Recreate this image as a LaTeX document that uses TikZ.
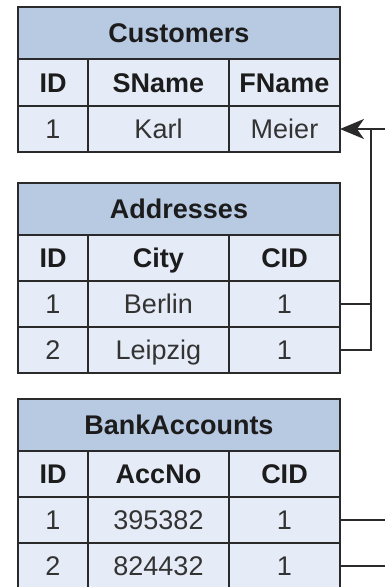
\documentclass[tikz,border=0pt]{standalone}
\usepackage{fontspec}
\setmainfont{Liberation Sans}
\usetikzlibrary{arrows.meta}
\definecolor{hdr}{HTML}{B8C9E2}
\definecolor{cellbg}{HTML}{E6ECF7}
\definecolor{edge}{HTML}{2A2A2A}
\definecolor{txt}{HTML}{333333}
\definecolor{btxt}{HTML}{1C1C1C}
\tikzset{
  tbl/.style={draw=edge, line width=1.6pt, inner sep=0pt, outer sep=0pt, text=txt,
    text height=19.3pt, text depth=0pt, font=\fontsize{27}{31}\selectfont},
  title/.style={tbl, fill=hdr, text=btxt, minimum width=322pt, minimum height=52pt, font=\fontsize{27}{31}\selectfont\bfseries},
  colhead/.style={tbl, fill=cellbg, text=btxt, font=\fontsize{27}{31}\selectfont\bfseries},
  cellx/.style={tbl, fill=cellbg},
  cA/.style={minimum width=70pt},
  cB/.style={minimum width=141pt},
  cC/.style={minimum width=111pt},
  rh/.style={minimum height=47pt},
  rr/.style={minimum height=46pt},
  link/.style={draw=edge, line width=1.6pt},
}
\begin{document}
\begin{tikzpicture}[x=1pt,y=-1pt]
\useasboundingbox (0,0) rectangle (385,587);
% Customers
\node[title] (ct) at (179,33) {Customers};
\node[colhead,cA,rh] (cid) at (53,82.5) {ID};
\node[colhead,cB,rh] (csn) at (158.5,82.5) {SName};
\node[colhead,cC,rh] (cfn) at (284.5,82.5) {FName};
\node[cellx,cA,rr] (c1id) at (53,129) {1};
\node[cellx,cB,rr] (c1sn) at (158.5,129) {Karl};
\node[cellx,cC,rr] (c1fn) at (284.5,129) {Meier};
% Addresses
\node[title] (at) at (179,209) {Addresses};
\node[colhead,cA,rr] (aid) at (53,258) {ID};
\node[colhead,cB,rr] (acity) at (158.5,258) {City};
\node[colhead,cC,rr] (acid) at (284.5,258) {CID};
\node[cellx,cA,rr] (a1id) at (53,304) {1};
\node[cellx,cB,rr] (a1city) at (158.5,304) {Berlin};
\node[cellx,cC,rr] (a1cid) at (284.5,304) {1};
\node[cellx,cA,rr] (a2id) at (53,350) {2};
\node[cellx,cB,rr] (a2city) at (158.5,350) {Leipzig};
\node[cellx,cC,rr] (a2cid) at (284.5,350) {1};
% BankAccounts
\node[title] (bt) at (179,425) {BankAccounts};
\node[colhead,cA,rr] (bid) at (53,474) {ID};
\node[colhead,cB,rr] (bacc) at (158.5,474) {AccNo};
\node[colhead,cC,rr] (bcid) at (284.5,474) {CID};
\node[cellx,cA,rr] (b1id) at (53,520) {1};
\node[cellx,cB,rr] (b1acc) at (158.5,520) {395382};
\node[cellx,cC,rr] (b1cid) at (284.5,520) {1};
\node[cellx,cA,rr] (b2id) at (53,566) {2};
\node[cellx,cB,rr] (b2acc) at (158.5,566) {824432};
\node[cellx,cC,rr] (b2cid) at (284.5,566) {1};
% connectors
\coordinate (inR) at (386,129);
\coordinate (join) at (371,129);
\coordinate (out1) at (386,520);
\coordinate (out2) at (386,566);
\draw[link,-{Stealth[length=24pt,width=20pt,inset=7pt]}] (inR) -- (c1fn.east);
\draw[link] (a1cid.east) -| (join);
\draw[link] (a2cid.east) -| (join);
\draw[link] (b1cid.east) -- (out1);
\draw[link] (b2cid.east) -- (out2);
\end{tikzpicture}
\end{document}
